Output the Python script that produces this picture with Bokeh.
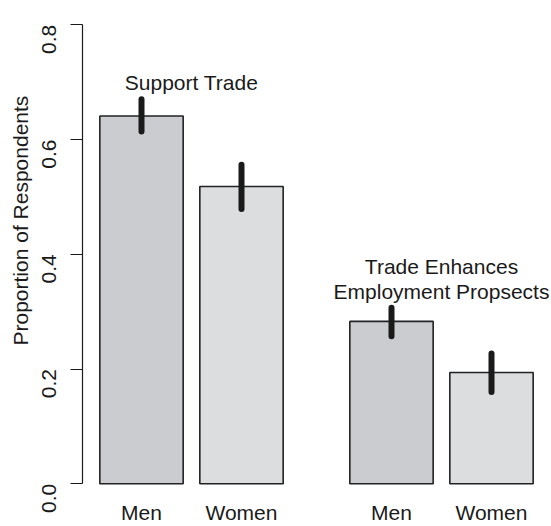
import math
from bokeh.plotting import figure
from bokeh.models import LinearAxis, FixedTicker, PrintfTickFormatter, Range1d, Title
from bokeh.core.properties import value
from bokeh.embed import file_html
from bokeh.resources import INLINE

# ---- data ----
groups = ["Support Trade", "Trade Enhances\nEmployment Propsects"]
group_label_y = [0.70, 0.357]
sexes = ["Men", "Women"]
support_vals = [0.641, 0.518]
support_lo = [0.614, 0.479]
support_hi = [0.670, 0.556]
employ_vals = [0.283, 0.194]
employ_lo = [0.257, 0.160]
employ_hi = [0.307, 0.227]
y_ticks = [0.0, 0.2, 0.4, 0.6, 0.8]
y_title = "Proportion of Respondents"

# ---- layout (R barplot style: width 1, space 0.2 within a group, 0.8 between groups) ----
bar_w = 1.0
space_in = 0.2
space_between = 0.8
centers = []
pos = 0.0
for gi in range(len(groups)):
    for si in range(len(sexes)):
        if si == 0 and gi > 0:
            pos += space_between
        else:
            pos += space_in
        centers.append(pos + bar_w / 2)
        pos += bar_w
group_centers = [(centers[2 * g] + centers[2 * g + 1]) / 2 for g in range(len(groups))]

vals = support_vals + employ_vals
los = support_lo + employ_lo
his = support_hi + employ_hi
labels = sexes * len(groups)
fills = ["#cbcccf", "#dcdddf"] * len(groups)

FONT = "Liberation Sans"
FS = "21px"
TXT = "#1a1a1a"

p = figure(width=551, height=526, output_backend="svg", toolbar_location=None,
           x_range=Range1d(-0.008, 5.620), y_range=Range1d(-0.0134, 0.8422),
           x_axis_type=None, y_axis_type=None, title=None,
           min_border_left=82, min_border_right=0, min_border_top=0, min_border_bottom=33,
           outline_line_color=None, background_fill_color="white")
p.grid.visible = False

p.vbar(x=centers, top=vals, bottom=0, width=bar_w, fill_color=fills,
       line_color="#222222", line_width=1.6)
p.segment(x0=centers, y0=los, x1=centers, y1=his, line_color="#1a1a1a",
          line_width=6, line_cap="round")

p.text(x=group_centers, y=group_label_y, text=groups, text_align="center",
       text_baseline="middle", text_font=value(FONT), text_font_size=FS,
       text_color=TXT, text_line_height=1.05)

yaxis = LinearAxis(bounds=(0, 0.8), ticker=FixedTicker(ticks=y_ticks),
                   formatter=PrintfTickFormatter(format="%.1f"))
yaxis.axis_line_color = "#1a1a1a"
yaxis.axis_line_width = 1.2
yaxis.major_tick_line_color = "#1a1a1a"
yaxis.major_tick_line_width = 1.2
yaxis.major_tick_out = 12
yaxis.major_tick_in = 0
yaxis.minor_tick_line_color = None
yaxis.major_label_orientation = math.pi / 2
yaxis.major_label_standoff = 21
yaxis.major_label_text_font = FONT
yaxis.major_label_text_font_size = FS
yaxis.major_label_text_color = TXT
p.add_layout(yaxis, "left")

ytitle = Title(text=y_title, align="left", offset=146, standoff=2,
               text_font=FONT, text_font_size=FS, text_font_style="normal",
               text_color=TXT)
p.add_layout(ytitle, "left")

xaxis = LinearAxis(ticker=FixedTicker(ticks=centers),
                   major_label_overrides={c: l for c, l in zip(centers, labels)})
xaxis.axis_line_color = None
xaxis.major_tick_line_color = None
xaxis.minor_tick_line_color = None
xaxis.major_tick_out = 0
xaxis.major_tick_in = 0
xaxis.major_label_standoff = 9
xaxis.major_label_text_font = FONT
xaxis.major_label_text_font_size = FS
xaxis.major_label_text_color = TXT
p.add_layout(xaxis, "below")

open("out.html", "w").write(file_html(p, INLINE))
